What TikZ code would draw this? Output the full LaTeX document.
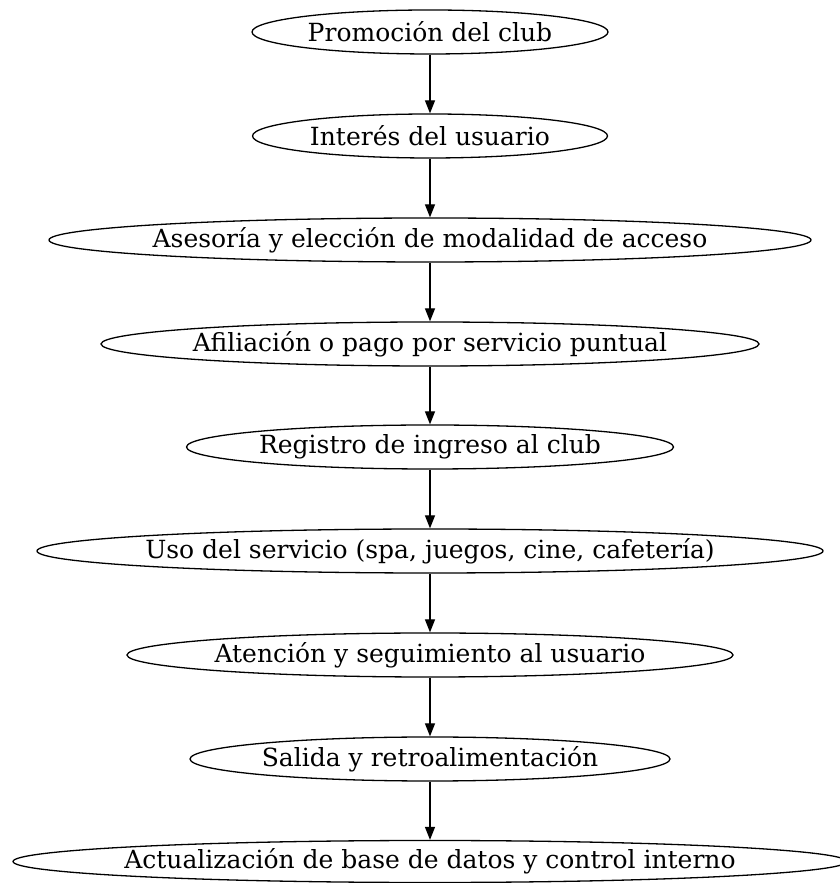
\documentclass[tikz,border=0pt]{standalone}
\usepackage{fontspec}
\setmainfont{DejaVu Serif}
\usetikzlibrary{shapes.geometric,arrows.meta}
\newcommand\stagetext[1]{\makebox[0pt]{#1}}
\begin{document}
\begin{tikzpicture}[x=1pt,y=1pt,
  stage/.style={ellipse,draw,line width=1.3pt,inner sep=0pt,minimum height=44pt,font=\fontsize{25}{27}\selectfont},
  flow/.style={-{Triangle[length=13pt,width=10pt]},line width=1.3pt}]
\useasboundingbox (0,0) rectangle (840,883);
\node[stage,minimum width=356pt] (n1) at (430,851) {\stagetext{Promoción del club}};
\node[stage,minimum width=355pt] (n2) at (430,747) {\stagetext{Interés del usuario}};
\node[stage,minimum width=762pt] (n3) at (430,643) {\stagetext{Asesoría y elección de modalidad de acceso}};
\node[stage,minimum width=658pt] (n4) at (430,539) {\stagetext{Afiliación o pago por servicio puntual}};
\node[stage,minimum width=487pt] (n5) at (430,436) {\stagetext{Registro de ingreso al club}};
\node[stage,minimum width=786pt] (n6) at (430,332) {\stagetext{Uso del servicio (spa, juegos, cine, cafetería)}};
\node[stage,minimum width=606pt] (n7) at (430,228) {\stagetext{Atención y seguimiento al usuario}};
\node[stage,minimum width=480pt] (n8) at (430,124) {\stagetext{Salida y retroalimentación}};
\node[stage,minimum width=834pt,minimum height=42pt] (n9) at (430,21.5) {\stagetext{Actualización de base de datos y control interno}};
\draw[flow] (n1.south) -- (n2.north);
\draw[flow] (n2.south) -- (n3.north);
\draw[flow] (n3.south) -- (n4.north);
\draw[flow] (n4.south) -- (n5.north);
\draw[flow] (n5.south) -- (n6.north);
\draw[flow] (n6.south) -- (n7.north);
\draw[flow] (n7.south) -- (n8.north);
\draw[flow] (n8.south) -- (n9.north);
\end{tikzpicture}
\end{document}
